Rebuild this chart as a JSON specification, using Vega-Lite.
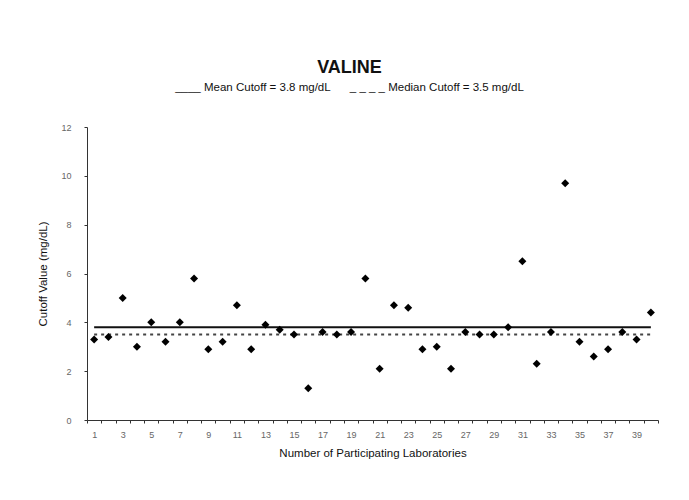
{
  "$schema": "https://vega.github.io/schema/vega-lite/v6.json",
  "autosize": "none",
  "width": 571,
  "height": 293,
  "padding": {"left": 87, "top": 127, "right": 31, "bottom": 80},
  "background": "white",
  "config": {
    "font": "Liberation Sans",
    "view": {"stroke": null},
    "axis": {"grid": false, "domainColor": "#333", "tickColor": "#333", "labelColor": "#666", "labelFontSize": 9, "titleFontSize": 11.5, "titleFontWeight": "normal", "titleColor": "#111", "tickSize": 3, "domainWidth": 1}
  },
  "title": {
    "text": "VALINE",
    "subtitle": "____ Mean Cutoff = 3.8 mg/dL\u00a0\u00a0\u00a0\u00a0\u00a0 _ _ _ _ Median Cutoff = 3.5 mg/dL",
    "anchor": "middle",
    "dx": -23,
    "fontSize": 18,
    "fontWeight": "bold",
    "color": "#111",
    "subtitleFontSize": 11.5,
    "subtitleColor": "#111",
    "subtitlePadding": 5,
    "offset": 30
  },
  "datasets": {
    "labs": [
      {"lab": 1, "cutoff": 3.3}, {"lab": 2, "cutoff": 3.4}, {"lab": 3, "cutoff": 5.0}, {"lab": 4, "cutoff": 3.0},
      {"lab": 5, "cutoff": 4.0}, {"lab": 6, "cutoff": 3.2}, {"lab": 7, "cutoff": 4.0}, {"lab": 8, "cutoff": 5.8},
      {"lab": 9, "cutoff": 2.9}, {"lab": 10, "cutoff": 3.2}, {"lab": 11, "cutoff": 4.7}, {"lab": 12, "cutoff": 2.9},
      {"lab": 13, "cutoff": 3.9}, {"lab": 14, "cutoff": 3.7}, {"lab": 15, "cutoff": 3.5}, {"lab": 16, "cutoff": 1.3},
      {"lab": 17, "cutoff": 3.6}, {"lab": 18, "cutoff": 3.5}, {"lab": 19, "cutoff": 3.6}, {"lab": 20, "cutoff": 5.8},
      {"lab": 21, "cutoff": 2.1}, {"lab": 22, "cutoff": 4.7}, {"lab": 23, "cutoff": 4.6}, {"lab": 24, "cutoff": 2.9},
      {"lab": 25, "cutoff": 3.0}, {"lab": 26, "cutoff": 2.1}, {"lab": 27, "cutoff": 3.6}, {"lab": 28, "cutoff": 3.5},
      {"lab": 29, "cutoff": 3.5}, {"lab": 30, "cutoff": 3.8}, {"lab": 31, "cutoff": 6.5}, {"lab": 32, "cutoff": 2.3},
      {"lab": 33, "cutoff": 3.6}, {"lab": 34, "cutoff": 9.7}, {"lab": 35, "cutoff": 3.2}, {"lab": 36, "cutoff": 2.6},
      {"lab": 37, "cutoff": 2.9}, {"lab": 38, "cutoff": 3.6}, {"lab": 39, "cutoff": 3.3}, {"lab": 40, "cutoff": 4.4}
    ],
    "mean": [{"lab": 1, "cutoff": 3.8}, {"lab": 40, "cutoff": 3.8}],
    "median": [{"lab": 1, "cutoff": 3.5}, {"lab": 40, "cutoff": 3.5}]
  },
  "encoding": {
    "x": {
      "field": "lab", "type": "ordinal",
      "scale": {"type": "band", "paddingInner": 0, "paddingOuter": 0, "domain": [1,2,3,4,5,6,7,8,9,10,11,12,13,14,15,16,17,18,19,20,21,22,23,24,25,26,27,28,29,30,31,32,33,34,35,36,37,38,39,40]},
      "axis": {"title": "Number of Participating Laboratories", "tickBand": "extent", "labelAngle": 0, "labelOverlap": false, "labelPadding": 7, "titlePadding": 8, "labelExpr": "datum.value % 2 == 1 ? datum.label : ''"}
    },
    "y": {
      "field": "cutoff", "type": "quantitative",
      "scale": {"domain": [0, 12], "nice": false},
      "axis": {"title": "Cutoff Value (mg/dL)", "values": [0, 2, 4, 6, 8, 10, 12], "labelPadding": 13, "titlePadding": 12}
    }
  },
  "layer": [
    {"data": {"name": "mean"}, "mark": {"type": "line", "color": "#111", "strokeWidth": 2}},
    {"data": {"name": "median"}, "mark": {"type": "line", "color": "#444", "strokeWidth": 2, "strokeDash": [3, 4]}},
    {"data": {"name": "labs"}, "mark": {"type": "point", "shape": "diamond", "filled": true, "color": "#000", "size": 64, "opacity": 1}}
  ]
}
